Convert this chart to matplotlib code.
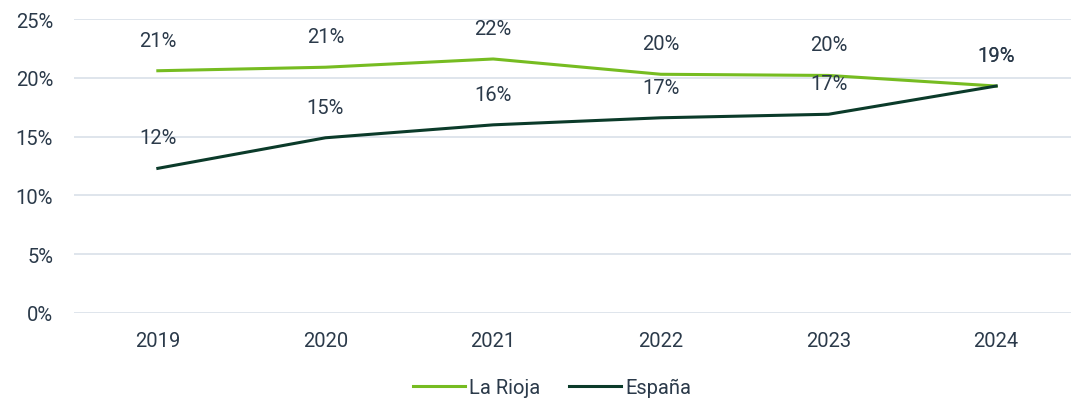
import matplotlib.pyplot as plt
import numpy as np

# Datos
anios = ['2019', '2020', '2021', '2022', '2023', '2024']
la_rioja = [20.6, 20.9, 21.6, 20.3, 20.2, 19.3]
espana = [12.3, 14.9, 16.0, 16.6, 16.9, 19.3]
etiquetas_rioja = ['21%', '21%', '22%', '20%', '20%', '19%']
etiquetas_espana = ['12%', '15%', '16%', '17%', '17%', '19%']

verde_claro = '#76BC21'
verde_oscuro = '#0B3B2A'
texto = '#2B3A4A'
rejilla = '#DCE3EA'

plt.rcParams['font.family'] = ['Roboto', 'DejaVu Sans']

fig = plt.figure(figsize=(10.71, 4.02), dpi=100)
ax = fig.add_axes([74 / 1071, 1 - 314 / 402, 1006 / 1071, 294 / 402])

x = np.arange(len(anios))
ax.plot(x, la_rioja, color=verde_claro, linewidth=2.2, label='La Rioja')
ax.plot(x, espana, color=verde_oscuro, linewidth=2.2, label='España')

# Etiquetas de datos
for xi, v, t in zip(x, la_rioja, etiquetas_rioja):
    ax.annotate(t, (xi, v), xytext=(0, 22), textcoords='offset points',
                ha='center', va='center', fontsize=14.5, color=texto)
for xi, v, t in zip(x, espana, etiquetas_espana):
    ax.annotate(t, (xi, v), xytext=(0, 22), textcoords='offset points',
                ha='center', va='center', fontsize=14.5, color=texto)

ax.set_xlim(-0.5, len(anios) - 0.5)
ax.set_ylim(0, 25)
ax.set_xticks(x)
ax.set_xticklabels(anios)
ax.set_yticks(np.arange(0, 26, 5))
ax.set_yticklabels([f'{v}%' for v in range(0, 26, 5)])
ax.tick_params(axis='both', length=0, labelsize=14.5, colors=texto)
ax.tick_params(axis='x', pad=13)
ax.tick_params(axis='y', pad=15)

ax.grid(axis='y', color=rejilla, linewidth=1.3)
ax.set_axisbelow(True)
for s in ax.spines.values():
    s.set_visible(False)

# Leyenda abajo, un poco más arriba para que no se corte
leg = fig.legend(loc='center', bbox_to_anchor=(552 / 1071, 1 - 388 / 402), ncol=2,
                 frameon=False, fontsize=14.5, handlelength=2.6, columnspacing=1.4,
                 handletextpad=0.2, borderpad=0.1)
for t in leg.get_texts():
    t.set_color(texto)

fig.savefig('out.png', dpi=100)
